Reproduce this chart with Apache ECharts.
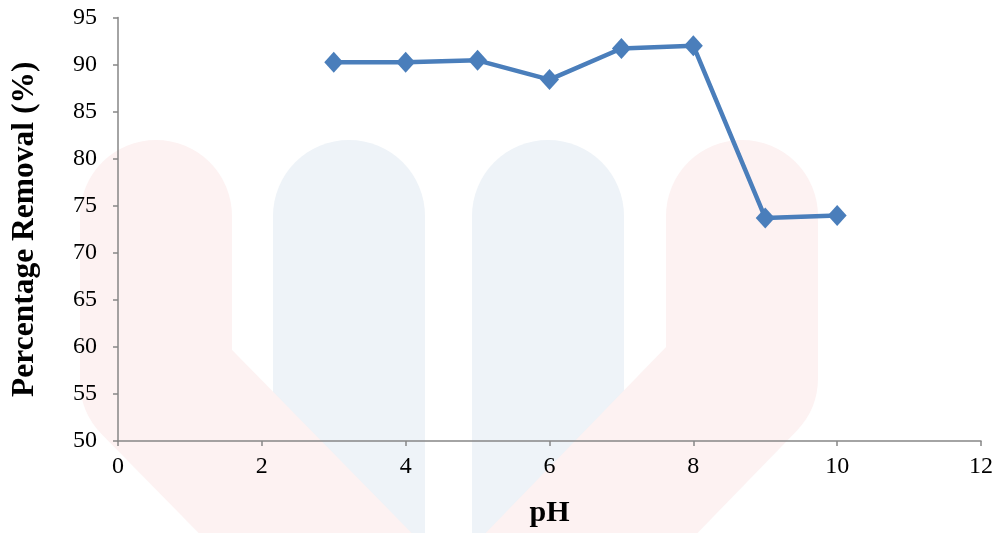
<!DOCTYPE html>
<html>
<head>
<meta charset="utf-8">
<script src="https://cdn.jsdelivr.net/npm/echarts@6/dist/echarts.min.js"></script>
<style>
html,body{margin:0;padding:0;background:#fff;}
#chart{width:1006px;height:533px;}
</style>
</head>
<body>
<div id="chart"></div>
<script>
var pH = [3, 4, 5, 6, 7, 8, 9, 10];
var removal = [90.25, 90.25, 90.45, 88.4, 91.7, 92.0, 73.7, 73.95];
var xTitle = 'pH';
var yTitle = 'Percentage Removal (%)';

var chart = echarts.init(document.getElementById('chart'), null, {renderer: 'canvas'});
var pink = '#fdf2f2', blue = '#eef3f8';
var font = '"Liberation Serif", "Times New Roman", serif';
chart.setOption({
  backgroundColor: '#ffffff',
  animation: false,
  graphic: [
    {type: 'polyline', silent: true, z: -10, shape: {points: [[349, 216], [349, 700]]},
     style: {stroke: blue, lineWidth: 152, lineCap: 'round', lineJoin: 'round', fill: null}},
    {type: 'polyline', silent: true, z: -10, shape: {points: [[548, 216], [548, 700]]},
     style: {stroke: blue, lineWidth: 152, lineCap: 'round', lineJoin: 'round', fill: null}},
    {type: 'polyline', silent: true, z: -9, shape: {points: [[156, 216], [156, 381], [420, 650]]},
     style: {stroke: pink, lineWidth: 152, lineCap: 'round', lineJoin: 'round', fill: null}},
    {type: 'polyline', silent: true, z: -9, shape: {points: [[742, 216], [742, 378], [478, 650]]},
     style: {stroke: pink, lineWidth: 152, lineCap: 'round', lineJoin: 'round', fill: null}}
  ],
  grid: {left: 118, right: 25, top: 17.5, bottom: 91, containLabel: false},
  xAxis: {
    type: 'value', min: 0, max: 12, interval: 2,
    name: xTitle, nameLocation: 'middle', nameGap: 57,
    nameTextStyle: {fontFamily: font, fontSize: 30, fontWeight: 'bold', color: '#000'},
    axisLine: {show: true, onZero: false, lineStyle: {color: '#868686', width: 1.5}},
    axisTick: {show: true, inside: false, length: 5, lineStyle: {color: '#868686', width: 1.5}},
    axisLabel: {fontFamily: font, fontSize: 24, color: '#000', margin: 14},
    splitLine: {show: false}
  },
  yAxis: {
    type: 'value', min: 50, max: 95, interval: 5,
    name: yTitle, nameLocation: 'middle', nameGap: 77, nameRotate: 90,
    nameTextStyle: {fontFamily: font, fontSize: 31.5, fontWeight: 'bold', color: '#000'},
    axisLine: {show: true, onZero: false, lineStyle: {color: '#868686', width: 1.5}},
    axisTick: {show: true, inside: false, length: 5, lineStyle: {color: '#868686', width: 1.5}},
    axisLabel: {fontFamily: font, fontSize: 24, color: '#000', margin: 21},
    splitLine: {show: false}
  },
  series: [{
    type: 'line',
    data: pH.map(function (x, i) { return [x, removal[i]]; }),
    symbol: 'diamond', symbolSize: [19, 21],
    lineStyle: {color: '#4a7ebb', width: 4.5},
    itemStyle: {color: '#4a7ebb'},
    z: 5
  }]
});
</script>
</body>
</html>
